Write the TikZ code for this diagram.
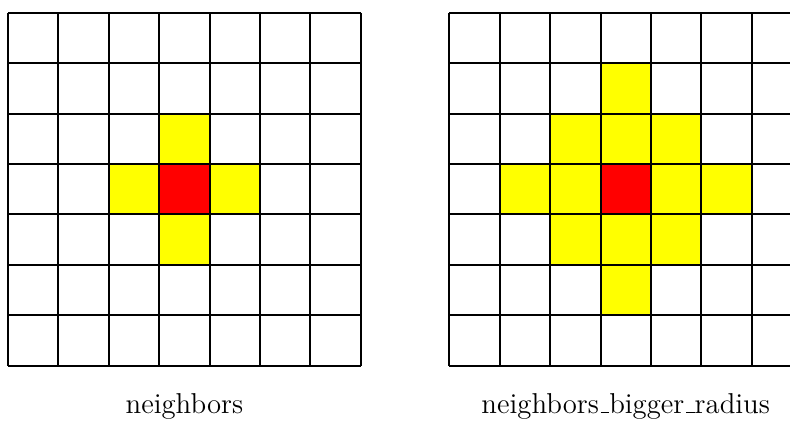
\documentclass[tikz,border=0pt]{standalone}
\usetikzlibrary{calc}
\definecolor{cellred}{RGB}{255,0,0}
\definecolor{cellyellow}{RGB}{255,255,0}
\newcommand{\lowbar}{\leavevmode\kern.06em\vbox{\hrule width.3em}}
\tikzset{
  gridline/.style={line width=0.8pt, black},
  redcell/.style={fill=cellred},
  yellowcell/.style={fill=cellyellow},
  caption/.style={anchor=base, font=\fontsize{11.5}{13}\selectfont, inner sep=0pt}
}
\begin{document}
\begin{tikzpicture}[x=0.4pt, y=-0.4pt]
\useasboundingbox (0,0) rectangle (790,421);
\clip (0,0) rectangle (790,421);
\def\cs{50.4}
% left grid fills
\def\lx{8}\def\ty{12.8}
\foreach \c/\r in {3/2,2/3,4/3,3/4}
  \fill[yellowcell] ({\lx+\c*\cs},{\ty+\r*\cs}) rectangle ++(\cs,\cs);
\fill[redcell] ({\lx+3*\cs},{\ty+3*\cs}) rectangle ++(\cs,\cs);
% right grid fills
\def\rx{449.3}
\foreach \c/\r in {3/1,2/2,3/2,4/2,1/3,2/3,4/3,5/3,2/4,3/4,4/4,3/5}
  \fill[yellowcell] ({\rx+\c*\cs},{\ty+\r*\cs}) rectangle ++(\cs,\cs);
\fill[redcell] ({\rx+3*\cs},{\ty+3*\cs}) rectangle ++(\cs,\cs);
% grid lines
\foreach \i in {0,...,7} {
  \draw[gridline] ({\lx+\i*\cs},\ty) -- ({\lx+\i*\cs},{\ty+7*\cs});
  \draw[gridline] (\lx,{\ty+\i*\cs}) -- ({\lx+7*\cs},{\ty+\i*\cs});
  \draw[gridline] ({\rx+\i*\cs},\ty) -- ({\rx+\i*\cs},{\ty+7*\cs});
  \draw[gridline] (\rx,{\ty+\i*\cs}) -- ({\rx+7*\cs},{\ty+\i*\cs});
}
\node[caption] (capL) at ({\lx+3.5*\cs},413) {neighbors};
\node[caption] (capR) at ({\rx+3.5*\cs},413) {neighbors\lowbar bigger\lowbar radius};
\end{tikzpicture}
\end{document}
